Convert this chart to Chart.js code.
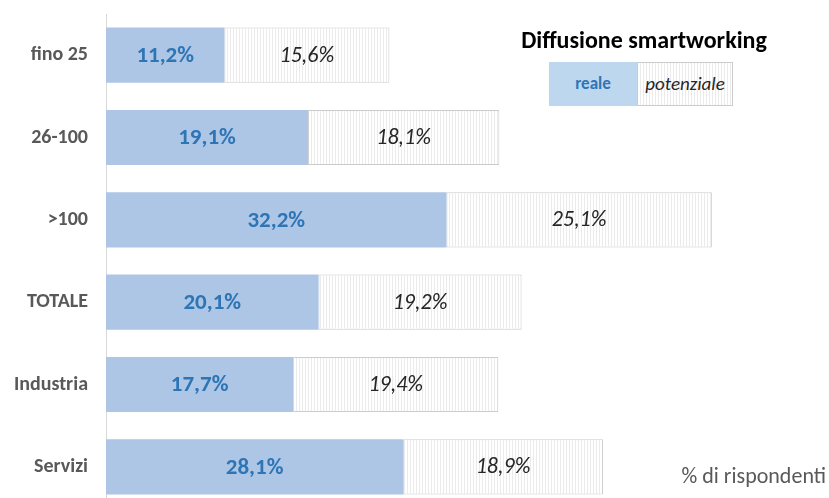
<!DOCTYPE html>
<html>
<head>
<meta charset="utf-8">
<script src="https://cdn.jsdelivr.net/npm/chart.js@4/dist/chart.umd.min.js"></script>
<style>
  html, body { margin: 0; padding: 0; background: #ffffff; overflow: hidden; }
  #wrap { position: relative; width: 829px; height: 508px; }
  #c { position: absolute; left: 0; top: 0; }
  .ff { font-family: Carlito, Calibri, Lato, sans-serif; }
  #title { position: absolute; left: 494px; width: 300px; top: 25px; text-align: center; font-weight: bold; font-size: 24px; color: #000; white-space: nowrap; }
  #lgReal { position: absolute; left: 549px; top: 62px; width: 88px; height: 44px; background: #bdd7ee; color: #2e75b6; font-weight: bold; font-size: 17px; line-height: 44px; text-align: center; }
  #lgPot { position: absolute; left: 637px; top: 62px; width: 94px; height: 42px; border: 1px solid #cccccc; background: repeating-linear-gradient(90deg, #ffffff 0px, #ffffff 2px, #ebebeb 2px, #ebebeb 3px); color: #262626; font-style: italic; font-size: 19px; line-height: 42px; text-align: center; white-space: nowrap; }
  #note { position: absolute; left: 640px; width: 186px; top: 462px; text-align: right; font-size: 22px; color: #595959; white-space: nowrap; }
</style>
</head>
<body>
<div id="wrap">
  <canvas id="c" width="829" height="508"></canvas>
  <div id="title" class="ff">Diffusione smartworking</div>
  <div id="lgReal" class="ff">reale</div>
  <div id="lgPot" class="ff">potenziale</div>
  <div id="note" class="ff">% di rispondenti</div>
</div>
<script>
const categories = ["fino 25", "26-100", ">100", "TOTALE", "Industria", "Servizi"];
const reale = [11.2, 19.1, 32.2, 20.1, 17.7, 28.1];
const potenziale = [15.6, 18.1, 25.1, 19.2, 19.4, 18.9];
const seriesNames = ["reale", "potenziale"];

const FONT = "Carlito, Calibri, Lato, sans-serif";

function makePattern() {
  const p = document.createElement('canvas');
  p.width = 3; p.height = 8;
  const g = p.getContext('2d');
  g.fillStyle = '#ffffff'; g.fillRect(0, 0, 3, 8);
  g.fillStyle = '#ebebeb'; g.fillRect(2, 0, 1, 8);
  return g.createPattern(p, 'repeat');
}

function fmt(v) { return v.toFixed(1).replace('.', ',') + '%'; }

const labelPlugin = {
  id: 'barLabels',
  afterDatasetsDraw(chart) {
    const ctx = chart.ctx;
    chart.data.datasets.forEach((ds, di) => {
      const meta = chart.getDatasetMeta(di);
      meta.data.forEach((bar, i) => {
        const cx = (bar.x + bar.base) / 2;
        ctx.save();
        ctx.textAlign = 'center';
        ctx.textBaseline = 'middle';
        if (di === 0) {
          ctx.font = 'bold 23px ' + FONT;
          ctx.fillStyle = '#2e75b6';
        } else {
          ctx.font = 'italic 22px ' + FONT;
          ctx.fillStyle = '#262626';
        }
        ctx.fillText(fmt(ds.data[i]), cx, bar.y + 1);
        ctx.restore();
      });
    });
  }
};

new Chart(document.getElementById('c'), {
  type: 'bar',
  data: {
    labels: categories,
    datasets: [
      { label: seriesNames[0], data: reale, backgroundColor: '#adc6e6', borderWidth: 0,
        barPercentage: 0.67, categoryPercentage: 1.0 },
      { label: seriesNames[1], data: potenziale, backgroundColor: makePattern(),
        borderColor: '#cccccc', borderWidth: 1, borderSkipped: false,
        barPercentage: 0.67, categoryPercentage: 1.0 }
    ]
  },
  options: {
    indexAxis: 'y',
    responsive: false,
    maintainAspectRatio: false,
    animation: false,
    layout: { padding: { top: 14, right: 4, bottom: 0, left: 0 } },
    plugins: { legend: { display: false }, tooltip: { enabled: false } },
    scales: {
      x: { stacked: true, min: 0, max: 68, display: false },
      y: {
        stacked: true,
        grid: { display: false },
        border: { display: true, color: '#d9d9d9', width: 1 },
        ticks: { color: '#595959', padding: 10, font: { family: FONT, size: 20, weight: 'bold' } },
        afterFit(scale) { scale.width = 106; scale.paddingTop = 0; scale.paddingBottom = 0; }
      }
    }
  },
  plugins: [labelPlugin]
});
</script>
</body>
</html>
